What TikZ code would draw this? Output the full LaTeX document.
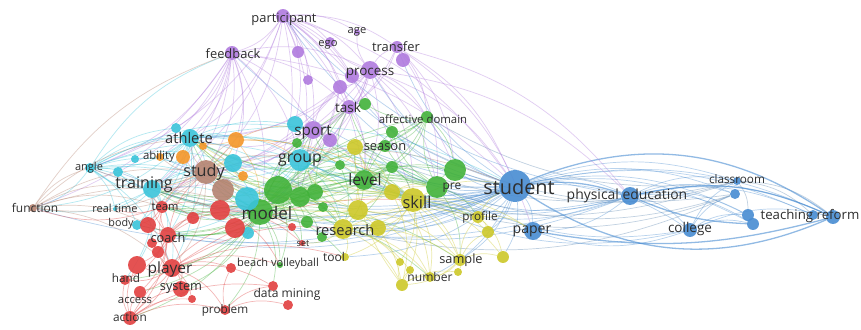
\documentclass[tikz,border=0pt]{standalone}
\usepackage{fontspec}
\setmainfont{Open Sans}
\usepackage{tikz}
\usetikzlibrary{calc}
\pgfdeclarelayer{bg}
\pgfdeclarelayer{links}
\pgfsetlayers{bg,links,main}

\definecolor{vpur}{RGB}{176,122,222}
\definecolor{vgre}{RGB}{66,178,58}
\definecolor{vblu}{RGB}{72,140,210}
\definecolor{vyel}{RGB}{205,200,40}
\definecolor{vcya}{RGB}{58,196,218}
\definecolor{vora}{RGB}{244,150,40}
\definecolor{vbro}{RGB}{180,130,112}
\definecolor{vred}{RGB}{226,64,64}

\tikzset{
  kw/.style={circle, inner sep=0pt, draw=none, fill opacity=0.9, minimum size=#1*1.7pt},
  kpur/.style={kw=#1, fill=vpur},
  kgre/.style={kw=#1, fill=vgre},
  kblu/.style={kw=#1, fill=vblu},
  kyel/.style={kw=#1, fill=vyel},
  kcya/.style={kw=#1, fill=vcya},
  kora/.style={kw=#1, fill=vora},
  kbro/.style={kw=#1, fill=vbro},
  kred/.style={kw=#1, fill=vred},
  lbl/.style={font=\fontsize{#1}{#1}\selectfont, text=black!82, inner sep=0pt},
  lbl/.default=10,
  link/.style={draw=#1, opacity=0.38, line width=0.6pt, bend left=18},
  strong/.style={draw=#1, opacity=0.6, line width=1.1pt},
}

\begin{document}
\begin{tikzpicture}[x=0.03cm, y=-0.03cm]
    \clip (0,0) rectangle (861,329);
    \begin{pgfonlayer}{bg}
    \fill[white] (0,0) rectangle (861,329);
    \end{pgfonlayer}

    % purple cluster
    \node[kpur=7] (participant) at (283,16) {};
    \node[kpur=7] (feedback) at (232,53) {};
    \node[kpur=5] (ego) at (330,42) {};
    \node[kpur=3] (age) at (357,32) {};
    \node[kpur=6] (pu1) at (298,52) {};
    \node[kpur=6] (transfer) at (397,47) {};
    \node[kpur=7] (pu5) at (403,60) {};
    \node[kpur=9] (process) at (370,70) {};
    \node[kpur=7] (pu2) at (352,76) {};
    \node[kpur=5] (pu3) at (308,80) {};
    \node[kpur=7] (pu4) at (340,87) {};
    \node[kpur=7] (task) at (349,107) {};
    \node[kpur=9] (sport) at (313,130) {};
    \node[kpur=7] (pu6) at (330,140) {};

    % green cluster
    \node[kgre=6] (gr1) at (365,104) {};
    \node[kgre=6] (affective) at (427,117) {};
    \node[kgre=6] (gr3) at (392,132) {};
    \node[kgre=6] (gr4) at (385,146) {};
    \node[kgre=5] (gr5) at (340,165) {};
    \node[kgre=6] (gr6) at (392,167) {};
    \node[kgre=10] (level) at (364,180) {};
    \node[kgre=11] (gr8) at (455,170) {};
    \node[kgre=11] (pre) at (437,187) {};
    \node[kgre=14] (gr10) at (278,190) {};
    \node[kgre=13] (model) at (260,212) {};
    \node[kgre=10] (gr11) at (300,197) {};
    \node[kgre=8] (gr12) at (315,192) {};
    \node[kgre=6] (gr13) at (307,222) {};
    \node[kgre=5] (gr14) at (322,237) {};
    \node[kgre=5] (gr19) at (323,207) {};
    \node[kgre=5] (gr16) at (297,143) {};
    \node[kgre=3] (beachvb) at (280,265) {};

    % cyan cluster
    \node[kcya=9] (athlete) at (190,138) {};
    \node[kcya=5] (cy2) at (176,128) {};
    \node[kcya=4] (cy3) at (135,159) {};
    \node[kcya=5] (cy4) at (118,172) {};
    \node[kcya=5] (angle) at (90,168) {};
    \node[kcya=9] (training) at (152,189) {};
    \node[kcya=2] (realtime) at (115,209) {};
    \node[kcya=9] (cy5) at (233,163) {};
    \node[kcya=12] (cy6) at (247,199) {};
    \node[kcya=8] (cy7) at (295,124) {};
    \node[kcya=11] (group) at (300,160) {};
    \node[kcya=5] (body) at (137,225) {};
    \node[kcya=6] (cy9) at (248,233) {};

    % orange and brown clusters
    \node[kora=8] (or1) at (236,140) {};
    \node[kora=7] (or2) at (183,157) {};
    \node[kora=4] (ability) at (160,157) {};
    \node[kora=5] (or4) at (243,176) {};
    \node[kora=4] (or5) at (203,146) {};
    \node[kbro=12] (study) at (206,172) {};
    \node[kbro=11] (br2) at (223,190) {};
    \node[kbro=4] (function) at (33,208) {};

    % red cluster
    \node[kred=6] (team) at (162,207) {};
    \node[kred=10] (rd2) at (220,210) {};
    \node[kred=10] (rd3) at (235,228) {};
    \node[kred=6] (rd4) at (193,218) {};
    \node[kred=8] (rd6) at (148,225) {};
    \node[kred=8] (coach) at (168,235) {};
    \node[kred=5] (rd22) at (152,243) {};
    \node[kred=6] (rd10) at (158,252) {};
    \node[kred=9] (player) at (172,268) {};
    \node[kred=9] (rd8) at (137,265) {};
    \node[kred=5] (hand) at (125,280) {};
    \node[kred=8] (system) at (181,289) {};
    \node[kred=4] (rd12) at (192,299) {};
    \node[kred=6] (access) at (140,292) {};
    \node[kred=7] (action) at (130,318) {};
    \node[kred=5] (problem) at (225,310) {};
    \node[kred=5] (rd16) at (231,268) {};
    \node[kred=5] (datamining) at (273,286) {};
    \node[kred=5] (rd18) at (288,305) {};
    \node[kred=3] (set) at (302,243) {};
    \node[kred=4] (rd20) at (292,227) {};

    % yellow cluster
    \node[kyel=8] (season) at (355,147) {};
    \node[kyel=12] (skill) at (413,200) {};
    \node[kyel=8] (yl3) at (392,192) {};
    \node[kyel=10] (yl4) at (358,210) {};
    \node[kyel=10] (research) at (343,229) {};
    \node[kyel=8] (yl6) at (378,228) {};
    \node[kyel=4] (tool) at (345,257) {};
    \node[kyel=6] (yl8) at (402,285) {};
    \node[kyel=4] (yl9) at (400,262) {};
    \node[kyel=4] (yl10) at (410,270) {};
    \node[kyel=5] (number) at (430,277) {};
    \node[kyel=6] (sample) at (460,260) {};
    \node[kyel=4] (yl13) at (458,272) {};
    \node[kyel=6] (profile) at (478,217) {};
    \node[kyel=6] (yl15) at (488,232) {};
    \node[kyel=6] (yl16) at (503,257) {};

    % blue cluster
    \node[kblu=16] (student) at (515,186) {};
    \node[kblu=9] (paper) at (533,231) {};
    \node[kblu=9] (physed) at (630,196) {};
    \node[kblu=4] (classroom) at (737,181) {};
    \node[kblu=5] (bl5) at (735,194) {};
    \node[kblu=7] (college) at (690,230) {};
    \node[kblu=6] (bl7) at (748,215) {};
    \node[kblu=6] (bl8) at (753,224) {};
    \node[kblu=5] (bl9) at (813,215) {};
    \node[kblu=7] (teachref) at (833,217) {};

    \begin{pgfonlayer}{links}
    % blue links
    \foreach \t in {physed,paper,college,classroom,bl5,bl7,bl8,bl9,teachref,profile,yl15,yl16,sample,skill,pre,gr8,level,affective,season,research,group,model,study,training,athlete,angle,feedback,participant,process,transfer,task,sport,gr6,yl3,number,tool,coach,team,body,cy4,function,ability,gr3,gr1,yl4,yl6}
        \draw[link=vblu] (student) to (\t);
    \foreach \t in {classroom,bl5,college,bl7,bl8,bl9,teachref,paper,skill,model,group,training,participant,pre,level}
        \draw[link=vblu] (physed) to (\t);
    \foreach \t in {bl7,bl8,teachref,classroom,bl5,paper,skill,pre}
        \draw[link=vblu] (college) to (\t);
    \foreach \t in {bl9,teachref,bl7,affective,gr8,level,season}
        \draw[link=vblu!60!gray] (classroom) to (\t);
    \foreach \t in {skill,pre,gr3,research}
        \draw[link=vblu!60!gray] (bl5) to (\t);
    \draw[strong=vblu, bend left=28] (student) to (teachref);
    \draw[strong=vblu, bend left=18] (physed) to (teachref);
    \draw[strong=vblu, bend right=28] (student) to (teachref);
    \draw[strong=vblu, bend right=12] (paper) to (teachref);
    \draw[strong=vblu, bend right=10] (physed) to (bl8);
    \draw[strong=vblu, bend left=12] (student) to (physed);

    % purple links
    \foreach \t in {feedback,ego,age,transfer,pu1,process,pu2,pu3,pu4,task,sport,athlete,group,study,training,model,student,level,gr1,cy7,angle,skill}
        \draw[link=vpur] (participant) to (\t);
    \foreach \t in {athlete,training,angle,cy4,study,sport,group,process,task,model,ability,student,function,or1,cy5,cy2,team}
        \draw[link=vpur] (feedback) to (\t);
    \foreach \t in {transfer,task,sport,group,model,pre,level,skill,student,ego,age,pu2,pu4,affective,gr8,physed,athlete,study}
        \draw[link=vpur] (process) to (\t);
    \foreach \t in {pu5,task,student,pre,gr8,physed,paper,affective,sport}
        \draw[link=vpur] (transfer) to (\t);
    \foreach \t in {sport,group,model,level,gr1,study}
        \draw[link=vpur] (task) to (\t);
    \foreach \t in {group,study,athlete,model,pu4,level,training,pu6}
        \draw[link=vpur] (sport) to (\t);
    \foreach \t in {group,model,study,athlete,training,level}
        \draw[link=vpur] (pu4) to (\t);

    % cyan links
    \foreach \t in {training,angle,cy2,cy3,ability,study,group,model,sport,level,team,coach,player,body,realtime,function,or1,or2,student,skill,research}
        \draw[link=vcya] (athlete) to (\t);
    \foreach \t in {angle,function,realtime,body,cy4,study,group,model,team,coach,player,skill,level,rd8,hand}
        \draw[link=vcya] (training) to (\t);
    \foreach \t in {model,study,sport,level,skill,research,pre,gr8,team,coach,cy5,cy6,yl4,season}
        \draw[link=vcya] (group) to (\t);
    \foreach \t in {function,realtime,training,body,athlete,cy2,study,group,model,sport,or1,cy5,cy6,team,feedback,player}
        \draw[link=vcya] (angle) to (\t);
    \foreach \t in {model,rd2,rd3,team,gr11,cy9}
        \draw[link=vcya] (cy6) to (\t);

    % green links
    \foreach \t in {level,skill,pre,research,gr8,group,study,training,athlete,team,coach,player,system,action,hand,beachvb,set,tool,affective,season,task,sport,number,sample,profile,datamining,problem,yl4,yl6,body,access,gr3,gr4}
        \draw[link=vgre] (model) to (\t);
    \foreach \t in {skill,pre,affective,season,research,gr8,gr6,yl3,gr3}
        \draw[link=vgre] (level) to (\t);
    \foreach \t in {skill,affective,gr8,gr6,profile,sample,gr3,gr4}
        \draw[link=vgre] (pre) to (\t);
    \foreach \t in {gr3,gr4,gr6,gr8,season,level,group,gr1}
        \draw[link=vgre] (affective) to (\t);
    \foreach \t in {gr11,gr12,gr13,gr14,gr19,gr16,level,research,set,beachvb,skill,pre}
        \draw[link=vgre] (gr10) to (\t);
    \foreach \s in {gr11,gr12,gr6,gr5}
        \foreach \t in {athlete,training,study,pre,research,coach,team,sport,task,skill}
            \draw[link=vgre] (\s) to (\t);

    % red links
    \foreach \t in {hand,system,access,action,coach,team,problem,datamining,beachvb,rd8,rd10,rd12,rd16,research,tool,skill}
        \draw[link=vred] (player) to (\t);
    \foreach \t in {team,hand,action,system,access,model,training,study,rd6,rd4,rd2,rd10,rd22,rd8}
        \draw[link=vred] (coach) to (\t);
    \foreach \t in {problem,hand,system,access,datamining,rd12,rd8,model}
        \draw[link=vred] (action) to (\t);
    \foreach \t in {datamining,rd18,rd16}
        \draw[link=vred] (problem) to (\t);
    \foreach \t in {study,training,rd2,rd4,rd6,function,realtime,body}
        \draw[link=vred] (team) to (\t);
    \foreach \t in {rd3,model,set,rd20,beachvb}
        \draw[link=vred] (rd2) to (\t);

    % yellow links
    \foreach \t in {research,sample,number,profile,yl15,yl16,tool,yl8,yl9,yl3,yl4,yl6,student,paper,season}
        \draw[link=vyel] (skill) to (\t);
    \foreach \t in {tool,number,sample,profile,yl8,yl9,yl10,yl6,yl4,set}
        \draw[link=vyel] (research) to (\t);
    \foreach \t in {number,yl16,yl13,profile,yl8,yl15}
        \draw[link=vyel] (sample) to (\t);
    \foreach \t in {yl16,yl15,student,paper}
        \draw[link=vyel] (profile) to (\t);
    \foreach \t in {number,yl9,yl10,yl13,season}
        \draw[link=vyel] (yl8) to (\t);
    \foreach \t in {yl3,level,group,gr5}
        \draw[link=vyel] (season) to (\t);
    \foreach \s in {yl4,yl3}
        \foreach \t in {athlete,study,group,model,pre,level,sample,number,yl8}
            \draw[link=vyel] (\s) to (\t);

    % orange and brown links
    \foreach \t in {athlete,training,ability,function,group,model,team,coach,player,student,or1,or2,or4,cy5,cy6,br2,realtime,angle}
        \draw[link=vbro] (study) to (\t);
    \foreach \t in {training,athlete,team,model,angle,study,coach,feedback,player}
        \draw[link=vbro] (function) to (\t);
    \foreach \t in {group,model,sport,study,athlete,training,level,skill}
        \draw[link=vora] (or1) to (\t);
    \end{pgfonlayer}

    % labels
    \node[lbl=11] (l-participant) at (284,19) {participant};
    \node[lbl=11] (l-feedback) at (233,54) {feedback};
    \node[lbl=9.5] (l-age) at (357,32) {age};
    \node[lbl=9.5] (l-ego) at (328,45) {ego};
    \node[lbl=11] (l-transfer) at (396,47) {transfer};
    \node[lbl=11.5] (l-process) at (370,73) {process};
    \node[lbl=11.5] (l-task) at (348,107) {task};
    \node[lbl=9.7] (l-affective) at (423,119) {affective domain};
    \node[lbl=13] (l-sport) at (313,132) {sport};
    \node[lbl=11] (l-season) at (385,147) {season};
    \node[lbl=13.5] (l-group) at (300,160) {group};
    \node[lbl=12.5] (l-athlete) at (189,138) {athlete};
    \node[lbl=9.7] (l-ability) at (159,157) {ability};
    \node[lbl=9.4] (l-angle) at (89,168) {angle};
    \node[lbl=13.7] (l-training) at (144,185) {training};
    \node[lbl=13.8] (l-study) at (204,172) {study};
    \node[lbl=14.6] (l-model) at (267,213) {model};
    \node[lbl=13.5] (l-level) at (365,180) {level};
    \node[lbl=10.2] (l-pre) at (452,188) {pre};
    \node[lbl=14] (l-skill) at (417,202) {skill};
    \node[lbl=17] (l-student) at (519,187) {student};
    \node[lbl=11.9] (l-physed) at (627,196) {physical education};
    \node[lbl=10] (l-classroom) at (737,179) {classroom};
    \node[lbl=11.5] (l-college) at (690,229) {college};
    \node[lbl=11.3] (l-teachref) at (810,216) {teaching reform};
    \node[lbl=12] (l-paper) at (532,231) {paper};
    \node[lbl=10] (l-profile) at (480,217) {profile};
    \node[lbl=12.5] (l-research) at (345,230) {research};
    \node[lbl=10.9] (l-sample) at (461,260) {sample};
    \node[lbl=10.3] (l-number) at (430,277) {number};
    \node[lbl=10.3] (l-tool) at (334,257) {tool};
    \node[lbl=7.8] (l-set) at (303,244) {set};
    \node[lbl=9.4] (l-beachvb) at (278,264) {beach volleyball};
    \node[lbl=10.3] (l-datamining) at (287,294) {data mining};
    \node[lbl=10] (l-problem) at (225,310) {problem};
    \node[lbl=10.1] (l-action) at (130,317) {action};
    \node[lbl=9.6] (l-access) at (135,300) {access};
    \node[lbl=10.9] (l-system) at (181,288) {system};
    \node[lbl=10] (l-hand) at (126,278) {hand};
    \node[lbl=13.2] (l-player) at (170,269) {player};
    \node[lbl=10.9] (l-coach) at (168,238) {coach};
    \node[lbl=9.5] (l-team) at (165,207) {team};
    \node[lbl=9.2] (l-body) at (121,224) {body};
    \node[lbl=9.4] (l-realtime) at (115,208) {real time};
    \node[lbl=10.2] (l-function) at (35,208) {function};

\end{tikzpicture}
\end{document}
